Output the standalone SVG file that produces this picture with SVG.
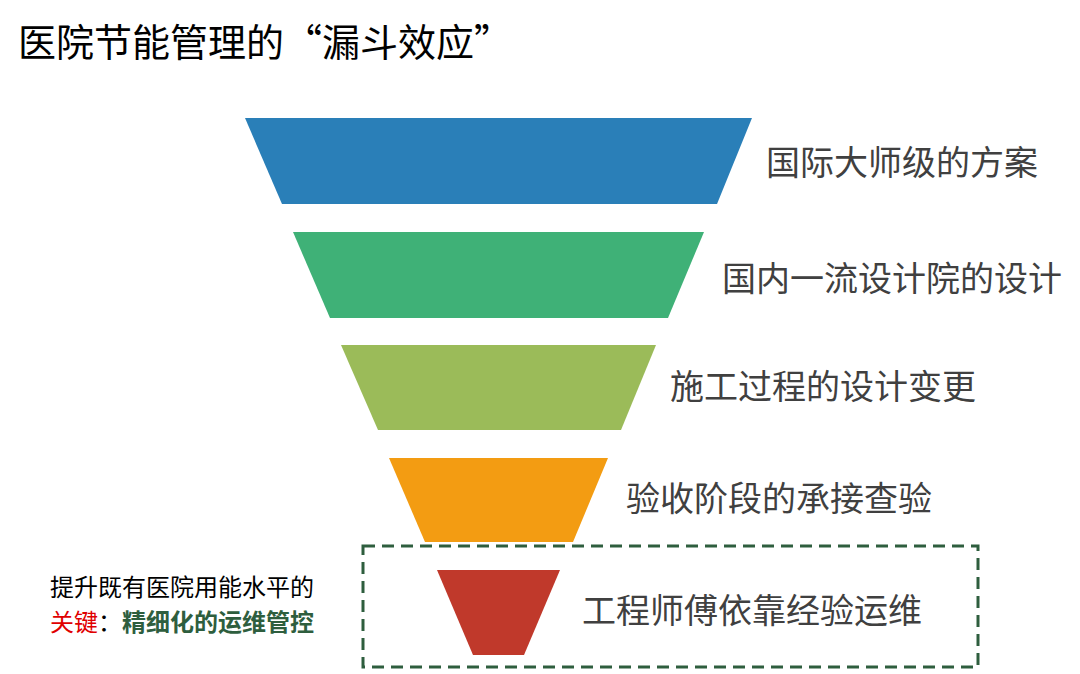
<svg xmlns="http://www.w3.org/2000/svg" width="1080" height="674" viewBox="0 0 1080 674">
<style>
.lbl{font-family:"Noto Sans CJK SC",sans-serif;font-size:34px;fill:#404040}
.sm{font-family:"Noto Sans CJK SC",sans-serif;font-size:24px}
</style>
<rect width="1080" height="674" fill="#fff"/>
<text x="18" y="56" font-family="Noto Sans CJK SC,sans-serif" font-size="38" fill="#000">医院节能管理的“漏斗效应”</text>
<g id="level1"><polygon points="245,118 752,118 717,204 282,204" fill="#2a7fb8"/><text class="lbl" x="766" y="175">国际大师级的方案</text></g>
<g id="level2"><polygon points="293,232 704,232 668,318 330,318" fill="#3fb177"/><text class="lbl" x="722" y="291">国内一流设计院的设计</text></g>
<g id="level3"><polygon points="341,345 656,345 621,430 378,430" fill="#9bbb59"/><text class="lbl" x="670" y="399">施工过程的设计变更</text></g>
<g id="level4"><polygon points="389,458 608,458 573,542 425,542" fill="#f39c12"/><text class="lbl" x="626" y="511">验收阶段的承接查验</text></g>
<g id="level5"><polygon points="437,570 560,570 524,655 473,655" fill="#c0392b"/><text class="lbl" x="582" y="623">工程师傅依靠经验运维</text></g>
<g id="highlight"><rect x="363" y="546" width="615" height="121" fill="none" stroke="#2e5e3e" stroke-width="3" stroke-dasharray="12,7"/></g>
<g id="note">
<text class="sm" x="50" y="596" fill="#000">提升既有医院用能水平的</text>
<text class="sm" x="50" y="631"><tspan fill="#e00000">关键</tspan><tspan fill="#000">：</tspan><tspan fill="#2e5e3e" font-weight="bold">精细化的运维管控</tspan></text>
</g>
<g id="connectors"/>
</svg>
